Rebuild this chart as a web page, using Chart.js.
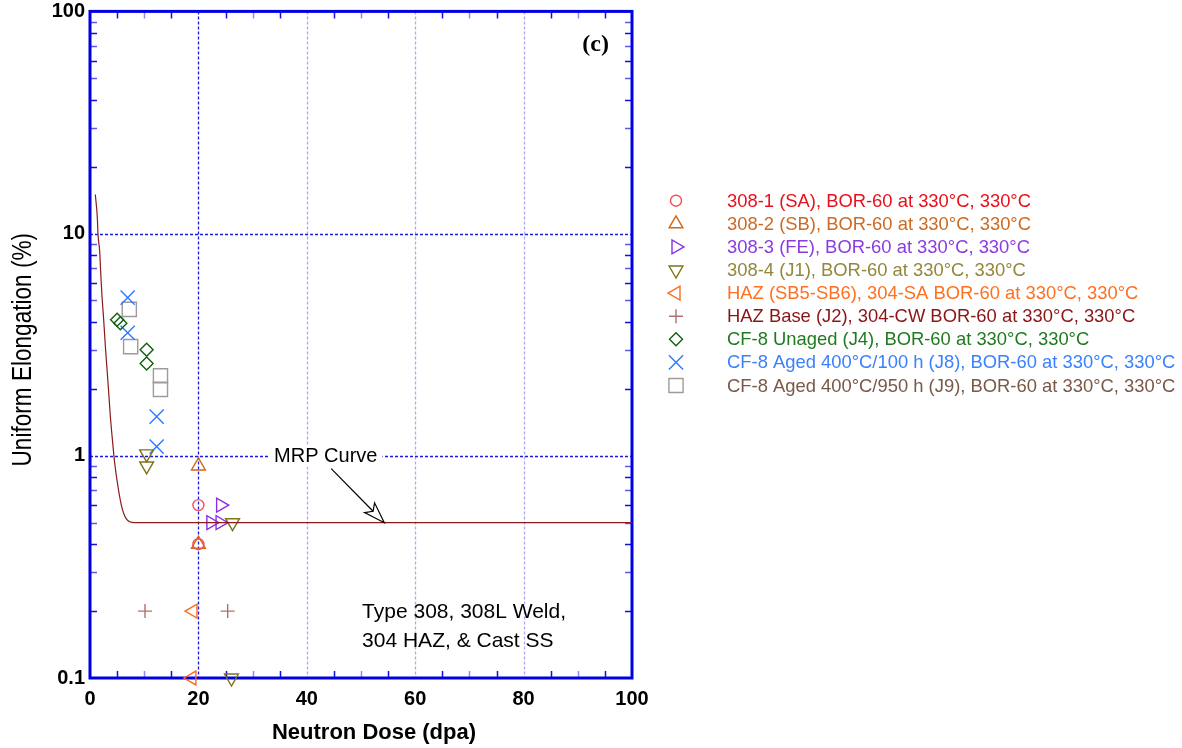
<!DOCTYPE html>
<html><head><meta charset="utf-8">
<style>html,body{margin:0;padding:0;background:#fff;overflow:hidden}#wrap{position:relative;width:1182px;height:748px}</style>
<script src="https://cdn.jsdelivr.net/npm/chart.js@4/dist/chart.umd.min.js"></script>
</head><body><div id="wrap"><canvas id="c" width="1182" height="748"></canvas></div>
<script>
// ---------- data ----------
const seriesLabels = [
  '308-1 (SA), BOR-60 at 330°C, 330°C',
  '308-2 (SB), BOR-60 at 330°C, 330°C',
  '308-3 (FE), BOR-60 at 330°C, 330°C',
  '308-4 (J1), BOR-60 at 330°C, 330°C',
  'HAZ (SB5-SB6), 304-SA BOR-60 at 330°C, 330°C',
  'HAZ Base (J2), 304-CW BOR-60 at 330°C, 330°C',
  'CF-8 Unaged (J4), BOR-60 at 330°C, 330°C',
  'CF-8 Aged 400°C/100 h (J8), BOR-60 at 330°C, 330°C',
  'CF-8 Aged 400°C/950 h (J9), BOR-60 at 330°C, 330°C'
];
const w308_1 = [[20,0.6],[20,0.4]];
const w308_2 = [[20,0.9],[20,0.4]];
const w308_3 = [[24.1,0.6],[22.3,0.5],[24.0,0.5]];
const w308_4 = [[10.45,1.02],[10.45,0.9],[26.3,0.5],[26.1,0.1]];
const hazSB = [[19.0,0.2],[18.8,0.1]];
const hazBase = [[10.15,0.2],[25.4,0.2]];
const cf8Unaged = [[5.0,4.1],[5.6,3.95],[10.45,3.0],[10.45,2.6]];
const cf8Aged100 = [[6.95,5.15],[6.95,3.58],[12.3,1.5],[12.3,1.1]];
const cf8Aged950 = [[7.25,4.56],[7.5,3.1],[13.0,2.29],[13.0,1.99]];
const mrpCurve = [[0.98,15.0],[1.35,11.8],[1.48,9.9],[1.79,8.3],[1.97,6.7],[2.21,5.24],[2.52,4.11],[2.83,3.12],[3.14,2.45],[3.45,1.93],[3.75,1.51],[4.12,1.19],[4.55,0.93],[5.04,0.76],[5.78,0.60],[6.7,0.52],[8.2,0.5],[100,0.5]];
const xTickValues = [0,20,40,60,80,100];
const yTickValues = [0.1,1,10,100];
const xTitle = 'Neutron Dose (dpa)';
const yTitle = 'Uniform Elongation (%)';
const curveLabel = 'MRP Curve';
const noteLines = ['Type 308, 308L Weld,','304 HAZ, & Cast SS'];
const panelLabel = '(c)';

// ---------- styles ----------
const FAM = "'Liberation Sans', Arial, sans-serif";
const seriesData = [w308_1,w308_2,w308_3,w308_4,hazSB,hazBase,cf8Unaged,cf8Aged100,cf8Aged950];
const seriesStyle = [
  {ps:'circle',   rot:0,   r:5.5, mc:'#ef4f55', tc:'#e8101a'},
  {ps:'triangle', rot:0,   r:8,   mc:'#d06818', tc:'#cc6a22'},
  {ps:'triangle', rot:90,  r:8,   mc:'#8a2ee6', tc:'#8b3be0'},
  {ps:'triangle', rot:180, r:8,   mc:'#7d7418', tc:'#93873a'},
  {ps:'triangle', rot:270, r:8,   mc:'#ff6a1a', tc:'#ff7020'},
  {ps:'cross',    rot:0,   r:7,   mc:'#b07070', tc:'#8b1414'},
  {ps:'rectRot',  rot:0,   r:6.5, mc:'#106010', tc:'#207a20'},
  {ps:'crossRot', rot:0,   r:10,  mc:'#2a7aff', tc:'#3a80ff'},
  {ps:'rect',     rot:0,   r:10,  mc:'#a09a9a', tc:'#7a5848'}
];
const toXY = arr => arr.map(p => ({x:p[0], y:p[1]}));

const datasets = [{
  label:'MRP', data: toXY(mrpCurve), showLine:true, borderColor:'#8b1a1a', borderWidth:1.2,
  pointRadius:0, cubicInterpolationMode:'monotone', clip:false, fill:false
}];
seriesData.forEach((d,i) => {
  const s = seriesStyle[i];
  datasets.push({label: seriesLabels[i], data: toXY(d), showLine:false, pointStyle:s.ps, rotation:s.rot,
    pointRadius:s.r, pointHoverRadius:s.r, borderColor:s.mc, backgroundColor:'rgba(0,0,0,0)', pointBorderWidth:1.4, borderWidth:1.4, clip:false});
});

const framePlugin = {
  id:'frame',
  beforeDatasetsDraw(chart){
    const {ctx, chartArea:a, scales:{x,y}} = chart;
    ctx.save();
    ctx.lineWidth = 1.3;
    ctx.setLineDash([3,2]);
    [[20,'#1a1ae6'],[40,'#a9a9f5'],[60,'#a9a9f5'],[80,'#a9a9f5']].forEach(([v,c]) => {
      const px = Math.round(x.getPixelForValue(v)) + 0.5;
      ctx.strokeStyle = c; ctx.beginPath(); ctx.moveTo(px,a.top); ctx.lineTo(px,a.bottom); ctx.stroke();
    });
    [1,10].forEach(v => {
      const py = Math.round(y.getPixelForValue(v)) + 0.5;
      ctx.strokeStyle = '#1a1ae6'; ctx.beginPath(); ctx.moveTo(a.left,py); ctx.lineTo(a.right,py); ctx.stroke();
    });
    ctx.setLineDash([]);
    ctx.lineWidth = 1.5;
    for (let v = 5; v < 100; v += 5) {
      if (v % 20 === 0) continue;
      const px = Math.round(x.getPixelForValue(v)) + 0.5;
      ctx.strokeStyle = (v % 10 === 0) ? '#8c8cff' : '#1010e0';
      ctx.beginPath(); ctx.moveTo(px,a.bottom); ctx.lineTo(px,a.bottom-7);
      ctx.moveTo(px,a.top); ctx.lineTo(px,a.top+7); ctx.stroke();
    }
    [0.1,1,10].forEach(d => {
      for (let k = 2; k <= 9; k++) {
        const py = Math.round(y.getPixelForValue(d*k)) + 0.5;
        ctx.strokeStyle = (k % 2 === 1) ? '#5a5af0' : '#1010e0';
        ctx.beginPath(); ctx.moveTo(a.left,py); ctx.lineTo(a.left+7,py);
        ctx.moveTo(a.right,py); ctx.lineTo(a.right-7,py); ctx.stroke();
      }
    });
    ctx.strokeStyle = '#0000e0'; ctx.lineWidth = 3;
    ctx.strokeRect(a.left, a.top, a.right-a.left, a.bottom-a.top);
    ctx.restore();
  },
  afterDatasetsDraw(chart){
    const {ctx, scales:{x,y}} = chart;
    ctx.save();
    ctx.font = '20px ' + FAM;
    ctx.textAlign = 'center'; ctx.textBaseline = 'middle';
    const lx = x.getPixelForValue(43.5), ly = y.getPixelForValue(1.0);
    const tw = ctx.measureText(curveLabel).width;
    ctx.fillStyle = '#fff'; ctx.fillRect(lx - tw/2 - 5, ly - 11, tw + 10, 22);
    ctx.fillStyle = '#000'; ctx.fillText(curveLabel, lx, ly + 1);
    const x0 = x.getPixelForValue(44.5), y0 = y.getPixelForValue(0.875);
    const x1 = x.getPixelForValue(54.3), y1 = y.getPixelForValue(0.5);
    const ang = Math.atan2(y1-y0, x1-x0), L = 21, H = 7;
    const bx = x1 - L*Math.cos(ang), by = y1 - L*Math.sin(ang);
    ctx.strokeStyle = '#000'; ctx.lineWidth = 1.2;
    ctx.beginPath(); ctx.moveTo(x0,y0); ctx.lineTo(bx + 5*Math.cos(ang), by + 5*Math.sin(ang)); ctx.stroke();
    ctx.beginPath();
    ctx.moveTo(x1,y1);
    ctx.lineTo(bx + H*Math.sin(ang), by - H*Math.cos(ang));
    ctx.lineTo(bx + 5*Math.cos(ang), by + 5*Math.sin(ang));
    ctx.lineTo(bx - H*Math.sin(ang), by + H*Math.cos(ang));
    ctx.closePath();
    ctx.fillStyle = '#fff'; ctx.fill(); ctx.stroke();
    ctx.font = '21px ' + FAM; ctx.fillStyle = '#000'; ctx.textAlign = 'left'; ctx.textBaseline = 'middle';
    const nx = x.getPixelForValue(50.2), ny = y.getPixelForValue(0.197);
    noteLines.forEach((t,i) => ctx.fillText(t, nx, ny + i*29));
    ctx.font = "bold 24px 'Liberation Serif', 'Times New Roman', serif"; ctx.textAlign = 'center';
    ctx.fillText(panelLabel, x.getPixelForValue(93.3), y.getPixelForValue(71));
    ctx.restore();
  },
  afterDraw(chart){
    const {ctx, chartArea:a} = chart;
    const drawPoint = Chart.helpers && Chart.helpers.drawPoint;
    ctx.save();
    // axis titles
    ctx.fillStyle = '#000'; ctx.textAlign = 'center'; ctx.textBaseline = 'middle';
    ctx.font = 'bold 22px ' + FAM;
    ctx.fillText(xTitle, (a.left + a.right)/2 + 13, 733);
    ctx.save();
    ctx.translate(23, (a.top + a.bottom)/2 + 5);
    ctx.rotate(-Math.PI/2);
    ctx.scale(1, 1.25);
    ctx.font = '22.6px ' + FAM;
    ctx.fillText(yTitle, 0, 0);
    ctx.restore();
    // legend
    ctx.font = '18.4px ' + FAM; ctx.textAlign = 'left'; ctx.textBaseline = 'middle';
    seriesLabels.forEach((lab,i) => {
      const s = seriesStyle[i];
      const yy = 200.7 + i*23.1;
      ctx.strokeStyle = s.mc; ctx.fillStyle = 'rgba(0,0,0,0)'; ctx.lineWidth = 1.4;
      if (drawPoint) drawPoint(ctx, {pointStyle:s.ps, rotation:s.rot, radius:s.r, borderWidth:1.4}, 676, yy);
      ctx.fillStyle = s.tc;
      ctx.fillText(lab, 727, yy + 1);
    });
    ctx.restore();
  }
};

new Chart(document.getElementById('c'), {
  type:'scatter',
  data:{datasets},
  options:{
    responsive:false, animation:false, devicePixelRatio:1,
    layout:{padding:{left:0,right:550,top:11,bottom:0}},
    plugins:{legend:{display:false}, tooltip:{enabled:false}},
    scales:{
      x:{type:'linear', min:0, max:100,
        afterBuildTicks:s => { s.ticks = xTickValues.map(v => ({value:v})); },
        afterFit:s => { s.height = 70; s.paddingLeft = 0; s.paddingRight = 0; },
        grid:{display:false, drawTicks:false}, border:{display:false},
        ticks:{font:{size:20, family:FAM, weight:'bold'}, color:'#000', padding:9, maxRotation:0, autoSkip:false, callback:v => String(v)},
        title:{display:false}
      },
      y:{type:'logarithmic', min:0.1, max:100,
        afterBuildTicks:s => { s.ticks = yTickValues.map(v => ({value:v})); },
        afterFit:s => { s.width = 90; s.paddingTop = 0; s.paddingBottom = 0; },
        grid:{display:false, drawTicks:false}, border:{display:false},
        ticks:{font:{size:20, family:FAM, weight:'bold'}, color:'#000', padding:5, autoSkip:false, callback:v => String(v)},
        title:{display:false}
      }
    }
  },
  plugins:[framePlugin]
});
</script></body></html>
